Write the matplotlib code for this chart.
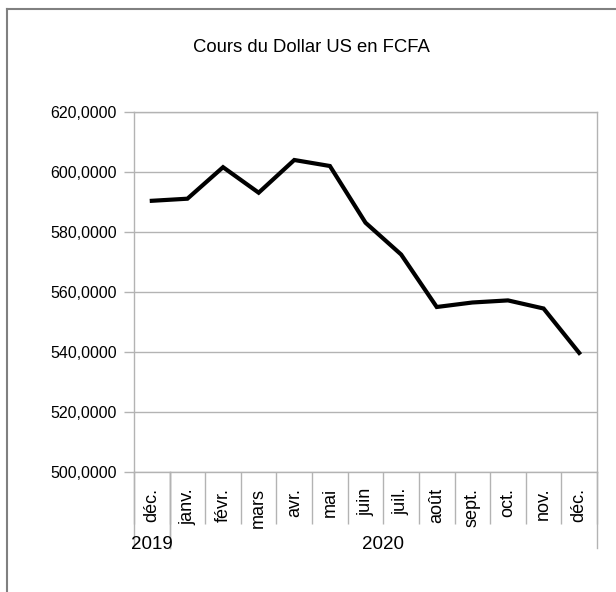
import matplotlib
import matplotlib.pyplot as plt
from matplotlib.lines import Line2D
from matplotlib.ticker import FuncFormatter

matplotlib.use("Agg")

# données
mois = ["déc.", "janv.", "févr.", "mars", "avr.", "mai", "juin",
        "juil.", "août", "sept.", "oct.", "nov.", "déc."]
annees = ["2019", "2020"]
debut_annee = [0, 1]  # indice du premier mois de chaque année
cours = [590.4, 591.1, 601.6, 593.1, 604.0, 602.0, 583.1,
         572.5, 555.0, 556.5, 557.2, 554.5, 539.7]

plt.rcParams["font.family"] = ["Liberation Sans", "DejaVu Sans"]
GRIS = "#b3b3b3"
DPI = 100

fig = plt.figure(figsize=(6.16, 5.92), dpi=DPI)
ax = fig.add_axes([134 / 616, 1 - 472 / 592, 463 / 616, 360 / 592])

x = list(range(len(mois)))
ax.plot(x, cours, color="black", linewidth=3, solid_joinstyle="miter")

ax.set_xlim(-0.5, len(mois) - 0.5)
ax.set_ylim(500, 620)
ax.set_yticks(range(500, 621, 20))
ax.yaxis.set_major_formatter(FuncFormatter(lambda v, p: f"{v:.4f}".replace(".", ",")))
ax.grid(axis="y", color=GRIS, linewidth=1)
ax.set_axisbelow(True)

for s in ax.spines.values():
    s.set_color(GRIS)
    s.set_linewidth(1)

ax.tick_params(axis="y", direction="out", length=7.2, width=1, color=GRIS,
               pad=5, labelsize=11.5)

# séparateurs des mois (traits sous l'axe)
ax.set_xticks([i - 0.5 for i in range(len(mois) + 1)])
ax.set_xticklabels([])
ax.tick_params(axis="x", which="major", direction="out", length=37.5, width=1, color=GRIS)
ax.set_xticks(x, minor=True)
ax.set_xticklabels(mois, minor=True, rotation=90, fontsize=13)
ax.tick_params(axis="x", which="minor", length=0, pad=11.5)

# séparateurs des années et libellés
bornes = debut_annee + [len(mois)]
for i, an in enumerate(annees):
    g, d = bornes[i] - 0.5, bornes[i + 1] - 0.5
    for b in (g, d):
        ax.plot([b, b], [0, -76 / 360], transform=ax.get_xaxis_transform(),
                color=GRIS, linewidth=1, clip_on=False)
    ax.annotate(an, xy=((g + d) / 2, 0), xycoords=("data", "axes fraction"),
                xytext=(0, -52), textcoords="offset points",
                ha="center", va="center", fontsize=13.5)

fig.text(311 / 616, 1 - 48 / 592, "Cours du Dollar US en FCFA",
         ha="center", va="center", fontsize=13.3)

# cadre du graphique
bx, by = 7 / 616, 1 - 9 / 592
fig.add_artist(Line2D([bx, bx], [0, by], color="#808080", linewidth=1.5))
fig.add_artist(Line2D([bx, 1], [by, by], color="#808080", linewidth=1.5))

fig.savefig("out.png", dpi=DPI)
